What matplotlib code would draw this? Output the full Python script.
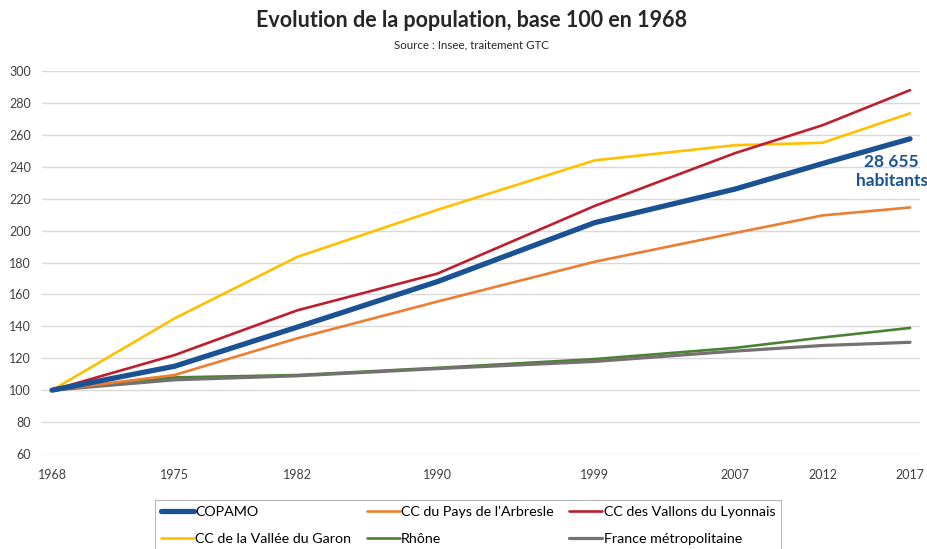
import matplotlib
matplotlib.use("Agg")
import matplotlib.pyplot as plt

plt.rcParams['font.family'] = ['Lato', 'DejaVu Sans']

# données (base 100 en 1968)
annees = [1968, 1975, 1982, 1990, 1999, 2007, 2012, 2017]
copamo = [100, 115, 139.5, 168, 205, 226, 242, 257.5]
arbresle = [100, 109.5, 132.5, 155.5, 180.5, 198.5, 209.5, 214.5]
vallons = [100, 122, 150, 173, 215.5, 248.5, 266, 288]
garon = [100, 145, 183.5, 213, 244, 253.5, 255, 273.5]
rhone = [100, 108, 109.5, 114, 119.5, 126.5, 133, 139]
france = [100, 106.5, 109, 113.5, 118, 124.5, 128, 130]
noms = ["COPAMO", "CC du Pays de l'Arbresle", "CC des Vallons du Lyonnais",
        "CC de la Vallée du Garon", "Rhône", "France métropolitaine"]
yticks = list(range(60, 301, 20))

fig = plt.figure(figsize=(9.28, 5.49), dpi=100)
ax = fig.add_axes([0.0453, 0.173, 0.9461, 0.6977])

series = [
    (copamo, '#1A5293', 3.8, 6),
    (arbresle, '#ED7D31', 1.9, 3),
    (vallons, '#BF1E2D', 1.9, 4),
    (garon, '#FFC000', 1.9, 3),
    (rhone, '#4A8234', 1.9, 2),
    (france, '#767171', 2.3, 2),
]
lignes = []
for (vals, col, lw, z), nom in zip(series, noms):
    l, = ax.plot(annees, vals, color=col, lw=lw, zorder=z, label=nom,
                 solid_capstyle='round', solid_joinstyle='round')
    lignes.append(l)

ax.set_xlim(1967.43, 2017.57)
ax.set_ylim(60, 300)
ax.set_xticks(annees)
ax.set_xticklabels([str(a) for a in annees])
ax.set_yticks(yticks)
ax.grid(axis='y', color='#D9D9D9', lw=1)
ax.set_axisbelow(True)
for s in ax.spines.values():
    s.set_visible(False)
ax.tick_params(axis='both', length=0, labelsize=9, colors='#404040')
ax.tick_params(axis='y', pad=8)
ax.tick_params(axis='x', pad=11)

ax.text(2015.95, 237, "28 655\nhabitants", color='#1A5293', fontsize=12.5,
        fontweight='bold', ha='center', va='center', linespacing=1.25, zorder=7)

fig.text(0.508, 0.962, "Evolution de la population, base 100 en 1968",
         ha='center', va='center', fontsize=15.5, fontweight='bold', color='#262626')
fig.text(0.508, 0.919, "Source : Insee, traitement GTC", ha='center', va='center',
         fontsize=8.3, color='#262626')

# légende sur 3 colonnes, lignes: COPAMO / Arbresle / Vallons puis Garon / Rhône / France
ordre = [0, 3, 1, 4, 2, 5]
leg = fig.legend([lignes[i] for i in ordre], [noms[i] for i in ordre],
                 ncol=3, loc='upper left', fontsize=10.3, frameon=True,
                 fancybox=False, edgecolor='#A6A6A6', handlelength=2.3,
                 handletextpad=0.1, columnspacing=1.1, labelspacing=1.05,
                 borderpad=0.4, borderaxespad=0)
leg.set_bbox_to_anchor((0.167, 1 - 500 / 549), transform=fig.transFigure)
leg.get_frame().set_linewidth(0.8)

fig.savefig("out.png", dpi=100)
